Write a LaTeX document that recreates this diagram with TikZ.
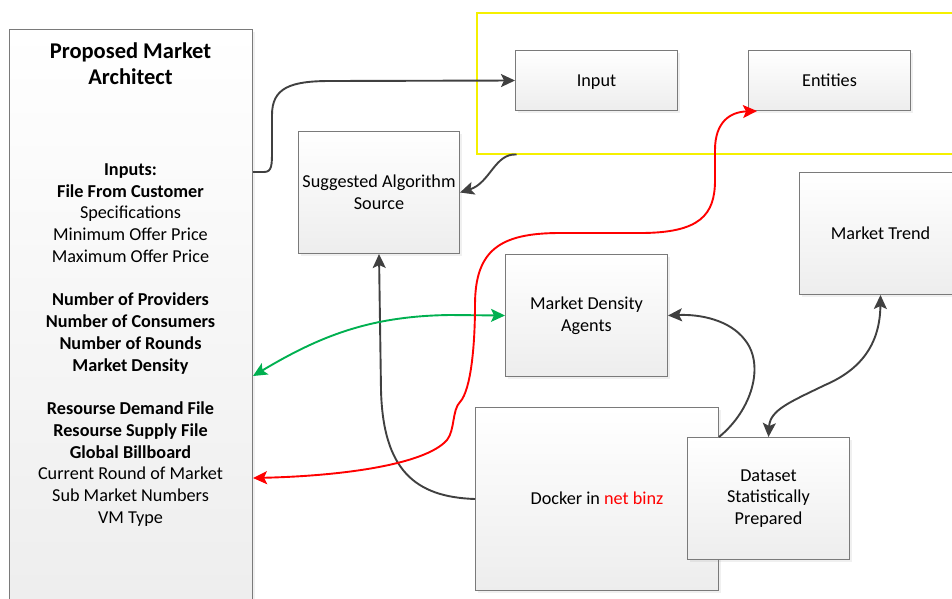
\documentclass[tikz,border=0pt]{standalone}
\usepackage{fontspec}
\setmainfont{Carlito}
\usetikzlibrary{arrows.meta,shadows}
\newcommand{\labelSize}[0]{\fontsize{18.2}{21.75}\selectfont}
\newcommand{\titleSize}[0]{\fontsize{22.5}{26}\selectfont}
\newcommand{\gap}[0]{21.75pt}
\definecolor{lineGray}{HTML}{404040}
\definecolor{edgeGray}{HTML}{7A7A7A}
\definecolor{arrowGreen}{HTML}{00B050}
\definecolor{frameYellow}{HTML}{F5F000}

\begin{document}
\begin{tikzpicture}[x=1pt, y=-1pt, >={Stealth[length=14pt, width=13pt, inset=3pt]}]
  \tikzset{
    block/.style={draw=edgeGray, line width=1pt, top color=white, bottom color=black!7,
      drop shadow={shadow xshift=2pt, shadow yshift=-2pt, opacity=0.12},
      anchor=north west, align=center, font=\labelSize, inner sep=0pt},
    oneline/.style={text height=11.7pt, text depth=0pt},
    link/.style={->, lineGray, line width=1.9pt}
  }
  \useasboundingbox (0,0) rectangle (952,598);
  \clip (0,0) rectangle (952,598);

  \node[block, minimum width=243pt, minimum height=590pt] (arch) at (9,29) {};
  \node[font=\titleSize\bfseries, align=center] (archTitle) at (130.5,64) {Proposed Market\\Architect};
  \node[font=\labelSize, align=center] (archList) at (130.5,345) {%
    \textbf{Inputs:}\\
    \textbf{File From Customer}\\
    Specifications\\
    Minimum Offer Price\\
    Maximum Offer Price\\[\gap]
    \textbf{Number of Providers}\\
    \textbf{Number of Consumers}\\
    \textbf{Number of Rounds}\\
    \textbf{Market Density}\\[\gap]
    \textbf{Resourse Demand File}\\
    \textbf{Resourse Supply File}\\
    \textbf{Global Billboard}\\
    Current Round of Market\\
    Sub Market Numbers\\
    VM Type};

  \node[draw=frameYellow, line width=2pt, anchor=north west, inner sep=0pt,
    minimum width=500pt, minimum height=141pt] (yel) at (475.5,11.5) {};
  \node[block, oneline, minimum width=162pt, minimum height=60pt] (in) at (515,50) {Input};
  \node[block, oneline, minimum width=162pt, minimum height=60pt] (ent) at (748,50) {Entities};
  \node[block, minimum width=161pt, minimum height=122pt] (alg) at (298,131) {Suggested Algorithm\\Source};
  \node[block, oneline, minimum width=162pt, minimum height=122pt] (trend) at (799,172) {Market Trend};
  \node[block, minimum width=162pt, minimum height=122pt] (agents) at (505,254) {Market Density\\Agents};
  \node[block, oneline, minimum width=243pt, minimum height=183pt] (dock) at (475,407) {Docker in \textcolor{red}{net binz}};
  \node[block, minimum width=162pt, minimum height=122pt] (data) at (687,437) {Dataset\\Statistically\\Prepared};

  \draw[link] ([yshift=-143pt]arch.north east) -- (264,172) .. controls (272,172) and (272,165) .. (272,150)
    -- (272,115) .. controls (272,88) and (290,81) .. (330,81) -- (in.west);
  \draw[link] ([xshift=41pt]yel.south west) .. controls (495,153) and (490,183) .. (alg.east);
  \draw[link] (dock.west) .. controls (415,497) and (383,470) .. (381,390) -- (alg.south);
  \draw[link, <->, arrowGreen] ([yshift=-347pt]arch.north east) .. controls (320,336) and (370,316) .. (450,315) -- (agents.west);
  \draw[link, <->, red] ([yshift=-449pt]arch.north east) .. controls (340,476) and (425,465) .. (447,440)
    .. controls (455,430) and (452,410) .. (460,402) .. controls (471,390) and (475,345) .. (475,305)
    .. controls (475,250) and (500,233) .. (560,233) -- (640,233) .. controls (700,233) and (715,215) .. (715,180)
    -- (715,150) .. controls (715,122) and (730,112) .. ([xshift=9pt]ent.south west);
  \draw[link] (dock.east |- data.north) .. controls (752,410) and (765,365) .. (745,340)
    .. controls (730,320) and (700,314) .. (agents.east);
  \draw[link, <->] (trend.south) .. controls (880,345) and (860,370) .. (825,385)
    .. controls (790,402) and (770,410) .. (data.north);
\end{tikzpicture}
\end{document}
